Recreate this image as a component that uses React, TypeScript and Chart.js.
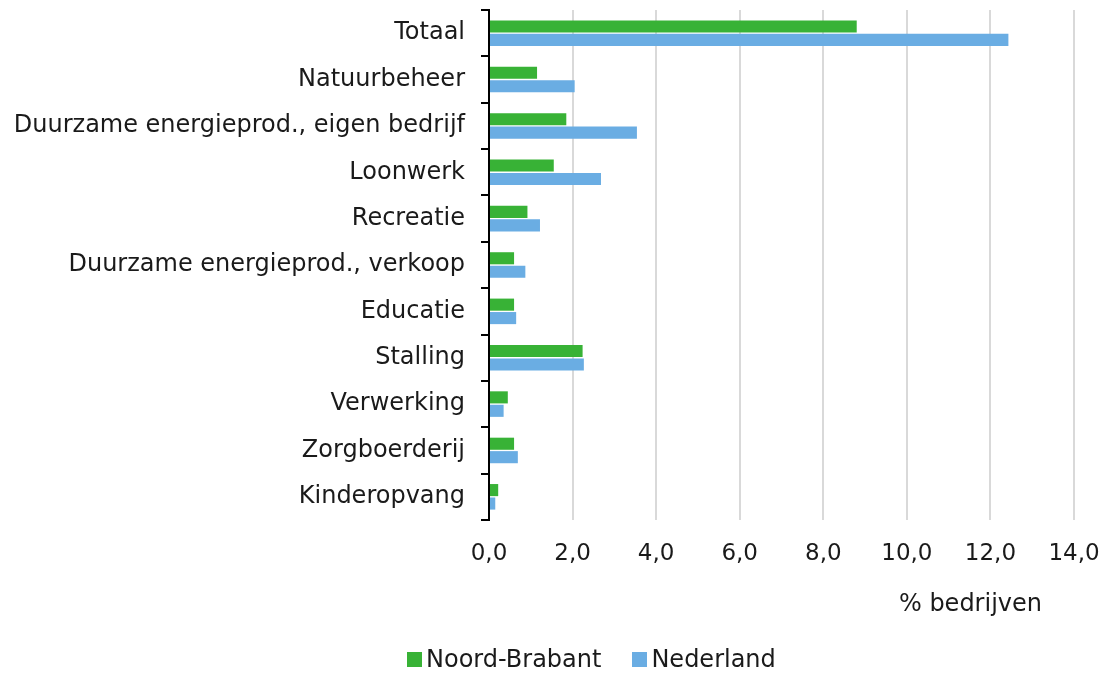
import React, { useEffect, useRef } from 'react';
import { Chart, registerables } from 'chart.js';

Chart.register(...registerables);

const categories = [
  'Totaal',
  'Natuurbeheer',
  'Duurzame energieprod., eigen bedrijf',
  'Loonwerk',
  'Recreatie',
  'Duurzame energieprod., verkoop',
  'Educatie',
  'Stalling',
  'Verwerking',
  'Zorgboerderij',
  'Kinderopvang',
];
const noordBrabant = [8.8, 1.15, 1.85, 1.55, 0.92, 0.6, 0.6, 2.24, 0.45, 0.6, 0.22];
const nederland = [12.43, 2.05, 3.54, 2.68, 1.22, 0.87, 0.65, 2.27, 0.35, 0.69, 0.15];
const seriesNames = ['Noord-Brabant', 'Nederland'];
const seriesColors = ['#38B236', '#6AADE3'];
const xMin = 0;
const xMax = 14;
const xStep = 2;
const xTitle = '% bedrijven';

const FONT = "'DejaVu Sans', Verdana, sans-serif";
const TEXT = '#1a1a1a';

const axisTitlePlugin = {
  id: 'axisTitle',
  afterDraw(chart: any) {
    const { ctx, chartArea } = chart;
    ctx.save();
    ctx.font = `24px ${FONT}`;
    ctx.fillStyle = TEXT;
    ctx.textAlign = 'right';
    ctx.textBaseline = 'alphabetic';
    ctx.fillText(xTitle, chartArea.right - 32, chartArea.bottom + 91);
    ctx.restore();
  },
};

export default function App() {
  const ref = useRef<HTMLCanvasElement | null>(null);

  useEffect(() => {
    if (!ref.current) return;
    Chart.defaults.font.family = FONT;
    const chart = new Chart(ref.current, {
      type: 'bar',
      data: {
        labels: categories,
        datasets: [
          {
            label: seriesNames[0],
            data: noordBrabant,
            backgroundColor: seriesColors[0],
            borderWidth: 0,
            categoryPercentage: 0.58,
            barPercentage: 0.9,
          },
          {
            label: seriesNames[1],
            data: nederland,
            backgroundColor: seriesColors[1],
            borderWidth: 0,
            categoryPercentage: 0.58,
            barPercentage: 0.9,
          },
        ],
      },
      options: {
        indexAxis: 'y',
        responsive: false,
        animation: false,
        devicePixelRatio: 1,
        layout: { padding: { top: 10, right: 33, left: 0, bottom: 0 } },
        plugins: {
          legend: { display: false },
          tooltip: { enabled: false },
        },
        scales: {
          x: {
            min: xMin,
            max: xMax,
            ticks: {
              stepSize: xStep,
              color: TEXT,
              font: { size: 23 },
              padding: 20,
              callback: (v: any) => Number(v).toFixed(1).replace('.', ','),
            },
            grid: { color: '#d9d9d9', lineWidth: 2, drawTicks: false },
            border: { display: false },
            afterFit: (s: any) => {
              s.height = 153;
              s.paddingLeft = 0;
              s.paddingRight = 0;
            },
          },
          y: {
            ticks: { color: TEXT, font: { size: 24 }, padding: 16 },
            grid: {
              offset: true,
              drawOnChartArea: false,
              drawTicks: true,
              tickLength: 8,
              color: '#000',
              lineWidth: 2,
            },
            border: { display: true, color: '#000', width: 2 },
            afterFit: (s: any) => {
              s.width = 489;
              s.paddingTop = 0;
              s.paddingBottom = 0;
            },
          },
        },
      },
      plugins: [axisTitlePlugin],
    } as any);
    return () => chart.destroy();
  }, []);

  return (
    <div style={{ position: 'absolute', left: 0, top: 0, width: 1107, height: 673, background: '#fff' }}>
      <canvas ref={ref} width={1107} height={673} style={{ display: 'block' }} />
      <div
        style={{
          position: 'absolute',
          left: 407,
          top: 647,
          display: 'flex',
          alignItems: 'center',
          fontFamily: FONT,
          fontSize: 24,
          lineHeight: '24px',
          color: TEXT,
          whiteSpace: 'nowrap',
        }}
      >
        {seriesNames.map((name, i) => (
          <div key={name} style={{ display: 'flex', alignItems: 'center', marginRight: i === 0 ? 31 : 0 }}>
            <span style={{ display: 'inline-block', width: 15, height: 15, background: seriesColors[i], marginRight: 4 }} />
            <span>{name}</span>
          </div>
        ))}
      </div>
    </div>
  );
}
